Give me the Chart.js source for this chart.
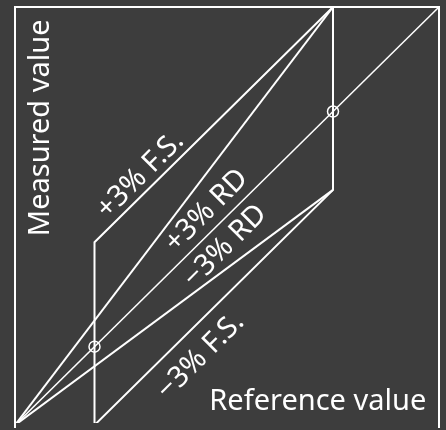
<!DOCTYPE html>
<html>
<head>
<meta charset="utf-8">
<script src="https://cdn.jsdelivr.net/npm/chart.js@4"></script>
<style>
  html, body { margin: 0; padding: 0; background: #3d3d3d; overflow: hidden; }
  #wrap { width: 446px; height: 430px; }
</style>
</head>
<body>
<div id="wrap"><canvas id="myChart" width="446" height="430"></canvas></div>
<script>
// reference value range and the two error bounds (exaggerated, as in the sketch)
const idealX = [0, 100];
const idealY = [0, 100];
const fsBandX = [18.75, 18.75, 75, 75, 18.75];
const fsBandY = [0, 43.75, 100, 56.25, 0];
const rdUpperX = [0, 75];
const rdUpperY = [0, 100];
const rdLowerX = [0, 75];
const rdLowerY = [0, 56.25];
const markX = [18.75, 75];
const markY = [18.75, 75];

// text labels, in data coordinates
const labelText = ["Measured value", "Reference value", "+3% F.S.", "+3% RD", "\u22123% RD", "\u22123% F.S."];
const labelX = [6.1, 97, 29.6, 45.2, 49.6, 43.8];
const labelY = [71.1, 3.5, 59.8, 51.3, 42.8, 16.5];
const labelAngle = [-90, 0, -45, -45, -45, -45];

const toPoints = (xs, ys) => xs.map((x, i) => ({ x: x, y: ys[i] }));

const frameAndText = {
  id: "frameAndText",
  afterDatasetsDraw(chart) {
    const c = chart.ctx;
    const a = chart.chartArea;
    const sx = chart.scales.x;
    const sy = chart.scales.y;
    c.save();
    c.strokeStyle = "#ffffff";
    c.lineWidth = 2;
    c.beginPath();
    c.moveTo(a.left, a.bottom + 5);
    c.lineTo(a.left, a.top);
    c.lineTo(a.right, a.top);
    c.lineTo(a.right, a.bottom + 5);
    c.stroke();

    c.fillStyle = "#ffffff";
    c.font = "29px 'Noto Sans'";
    labelText.forEach((t, i) => {
      const px = sx.getPixelForValue(labelX[i]);
      const py = sy.getPixelForValue(labelY[i]);
      c.save();
      c.translate(px, py);
      c.rotate(labelAngle[i] * Math.PI / 180);
      if (i === 1) {
        c.textAlign = "right";
        c.textBaseline = "alphabetic";
      } else {
        c.textAlign = "center";
        c.textBaseline = "middle";
      }
      c.fillText(t, 0, 0);
      c.restore();
    });
    c.restore();
  }
};

const lineStyle = {
  showLine: true,
  pointRadius: 0,
  borderColor: "#ffffff",
  borderWidth: 2,
  fill: false
};

const ctx = document.getElementById("myChart").getContext("2d");
const myChart = new Chart(ctx, {
  type: "scatter",
  data: {
    datasets: [
      Object.assign({}, lineStyle, { data: toPoints(idealX, idealY), borderWidth: 1.5 }),
      Object.assign({}, lineStyle, { data: toPoints(fsBandX, fsBandY) }),
      Object.assign({}, lineStyle, { data: toPoints(rdUpperX, rdUpperY) }),
      Object.assign({}, lineStyle, { data: toPoints(rdLowerX, rdLowerY) }),
      {
        data: toPoints(markX, markY),
        showLine: false,
        pointRadius: 5.5,
        pointStyle: "circle",
        pointBorderColor: "#ffffff",
        pointBackgroundColor: "rgba(0,0,0,0)",
        pointBorderWidth: 1.5
      }
    ]
  },
  options: {
    responsive: false,
    animation: false,
    layout: { padding: { left: 15, top: 7, right: 6, bottom: 0 } },
    plugins: {
      legend: { display: false },
      tooltip: { enabled: false }
    },
    scales: {
      x: { type: "linear", min: 0, max: 100, display: false },
      y: { type: "linear", min: 0.5, max: 100, display: false }
    }
  },
  plugins: [frameAndText]
});
</script>
</body>
</html>
